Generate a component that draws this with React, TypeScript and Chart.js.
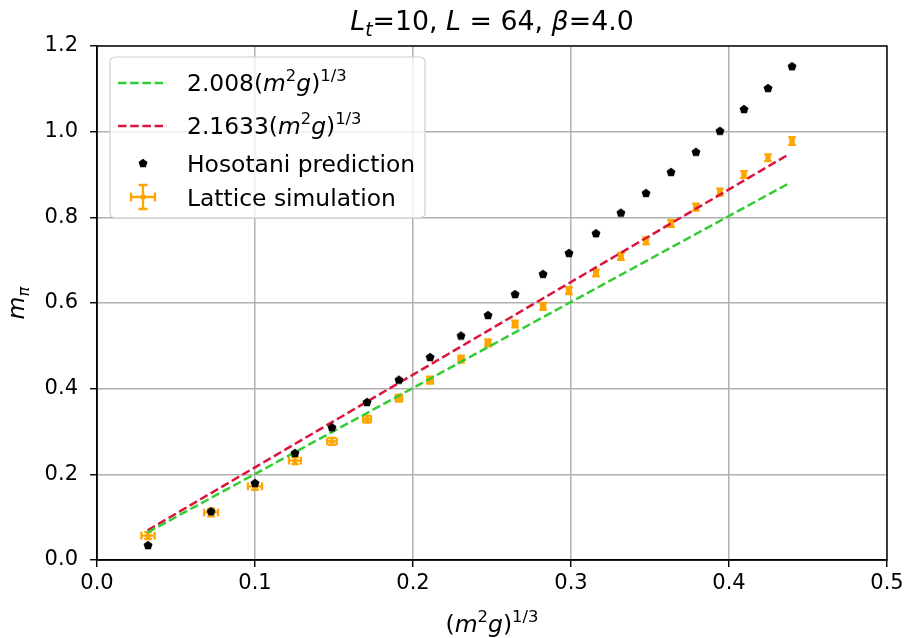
import React, { useEffect, useRef } from "react";
import { Chart, registerables } from "chart.js";
Chart.register(...registerables);

// ---------------- data ----------------
const xValues = [0.0323, 0.0722, 0.1, 0.1253, 0.1487, 0.1709, 0.1911, 0.2108, 0.2304, 0.2475, 0.2646, 0.2823, 0.2987, 0.3158, 0.3316, 0.3475, 0.3633, 0.3791, 0.3943, 0.4095, 0.4247, 0.4399];
const hosotaniY = [0.035, 0.114, 0.18, 0.25, 0.31, 0.369, 0.421, 0.474, 0.524, 0.572, 0.621, 0.668, 0.717, 0.763, 0.811, 0.857, 0.906, 0.953, 1.002, 1.053, 1.102, 1.153];
const latticeY = [0.057, 0.111, 0.172, 0.232, 0.277, 0.329, 0.378, 0.42, 0.469, 0.507, 0.551, 0.592, 0.629, 0.67, 0.709, 0.745, 0.786, 0.824, 0.859, 0.9, 0.939, 0.978];
const latticeXErr = [0.0042, 0.0044, 0.0045, 0.0038, 0.003, 0.0025, 0.002, 0.0018, 0.0016, 0.0015, 0.0014, 0.0013, 0.0012, 0.0012, 0.0011, 0.001, 0.001, 0.001, 0.001, 0.0009, 0.0009, 0.0009];
const latticeYErr = [0.008, 0.009, 0.008, 0.008, 0.008, 0.008, 0.008, 0.008, 0.008, 0.008, 0.008, 0.008, 0.008, 0.008, 0.008, 0.008, 0.008, 0.008, 0.008, 0.008, 0.008, 0.009];
const fitX = [0.032, 0.438];
const greenFitY = [0.0643, 0.8795];
const redFitY = [0.0692, 0.9475];
const xTicks = [0, 0.1, 0.2, 0.3, 0.4, 0.5];
const yTicks = [0, 0.2, 0.4, 0.6, 0.8, 1.0, 1.2];

const GREEN = "#32CD32";
const RED = "#DC143C";
const ORANGE = "#FFA500";
const FONT = '"DejaVu Sans"';

type Seg = { t: string; it?: boolean; s?: "sub" | "sup" };

const titleSegs: Seg[] = [
  { t: "L", it: true }, { t: "t", it: true, s: "sub" }, { t: "=10, " },
  { t: "L", it: true }, { t: " = 64, " }, { t: "β", it: true }, { t: "=4.0" },
];
const greenLabel: Seg[] = [{ t: "2.008(" }, { t: "m", it: true }, { t: "2", s: "sup" }, { t: "g", it: true }, { t: ")" }, { t: "1/3", s: "sup" }];
const redLabel: Seg[] = [{ t: "2.1633(" }, { t: "m", it: true }, { t: "2", s: "sup" }, { t: "g", it: true }, { t: ")" }, { t: "1/3", s: "sup" }];
const hosoLabel: Seg[] = [{ t: "Hosotani prediction" }];
const latLabel: Seg[] = [{ t: "Lattice simulation" }];
const xLabel: Seg[] = [{ t: "(" }, { t: "m", it: true }, { t: "2", s: "sup" }, { t: "g", it: true }, { t: ")" }, { t: "1/3", s: "sup" }];
const yLabel: Seg[] = [{ t: "m", it: true }, { t: "π", it: true, s: "sub" }];

function segFont(seg: Seg, size: number) {
  const fs = seg.s ? size * 0.7 : size;
  return `${seg.it ? "italic " : ""}${fs}px ${FONT}`;
}
function richWidth(ctx: CanvasRenderingContext2D, segs: Seg[], size: number) {
  let w = 0;
  for (const s of segs) { ctx.font = segFont(s, size); w += ctx.measureText(s.t).width; }
  return w;
}
function drawRich(ctx: CanvasRenderingContext2D, segs: Seg[], x: number, y: number, size: number, align: "center" | "left") {
  const w = richWidth(ctx, segs, size);
  let cx = align === "center" ? x - w / 2 : x;
  ctx.textAlign = "left";
  ctx.textBaseline = "alphabetic";
  ctx.fillStyle = "#000";
  for (const s of segs) {
    ctx.font = segFont(s, size);
    const dy = s.s === "sup" ? -size * 0.42 : s.s === "sub" ? size * 0.22 : 0;
    ctx.fillText(s.t, cx, y + dy);
    cx += ctx.measureText(s.t).width;
  }
}

function makePentagon(r: number, color: string) {
  const c = document.createElement("canvas");
  const size = Math.ceil(r * 2 + 2);
  c.width = size; c.height = size;
  const g = c.getContext("2d")!;
  g.fillStyle = color;
  g.beginPath();
  for (let i = 0; i < 5; i++) {
    const a = -Math.PI / 2 + (i * 2 * Math.PI) / 5;
    const px = size / 2 + r * Math.cos(a);
    const py = size / 2 + r * Math.sin(a) + 0.4;
    if (i === 0) g.moveTo(px, py); else g.lineTo(px, py);
  }
  g.closePath();
  g.fill();
  return c;
}

const CAP = 3.8;
function drawErrBar(ctx: CanvasRenderingContext2D, px: number, py: number, x0: number, x1: number, y0: number, y1: number, cap: number) {
  ctx.beginPath();
  ctx.moveTo(x0, py); ctx.lineTo(x1, py);
  ctx.moveTo(x0, py - cap); ctx.lineTo(x0, py + cap);
  ctx.moveTo(x1, py - cap); ctx.lineTo(x1, py + cap);
  ctx.moveTo(px, y0); ctx.lineTo(px, y1);
  ctx.moveTo(px - cap, y0); ctx.lineTo(px + cap, y0);
  ctx.moveTo(px - cap, y1); ctx.lineTo(px + cap, y1);
  ctx.stroke();
}

export default function App() {
  const ref = useRef<HTMLCanvasElement | null>(null);
  useEffect(() => {
    document.body.style.margin = "0";
    const canvas = ref.current!;
    const pent = makePentagon(4.7, "#000");
    const LAT_INDEX = 3;

    const plugin = {
      id: "custom",
      beforeDatasetDraw(chart: any, args: any) {
        if (args.index !== LAT_INDEX) return;
        const ctx: CanvasRenderingContext2D = chart.ctx;
        const xs = chart.scales.x, ys = chart.scales.y;
        ctx.save();
        ctx.strokeStyle = ORANGE;
        ctx.lineWidth = 2.3;
        for (let i = 0; i < xValues.length; i++) {
          const px = xs.getPixelForValue(xValues[i]);
          const py = ys.getPixelForValue(latticeY[i]);
          drawErrBar(ctx, px, py,
            xs.getPixelForValue(xValues[i] - latticeXErr[i]), xs.getPixelForValue(xValues[i] + latticeXErr[i]),
            ys.getPixelForValue(latticeY[i] - latticeYErr[i]), ys.getPixelForValue(latticeY[i] + latticeYErr[i]), CAP);
        }
        ctx.restore();
      },
      afterDraw(chart: any) {
        const ctx: CanvasRenderingContext2D = chart.ctx;
        const a = chart.chartArea;
        ctx.save();
        // spines
        ctx.strokeStyle = "#000";
        ctx.lineWidth = 1.4;
        ctx.strokeRect(a.left, a.top, a.right - a.left, a.bottom - a.top);
        // title
        const cx = (a.left + a.right) / 2;
        drawRich(ctx, titleSegs, cx, 30, 26.8, "center");
        // x label
        drawRich(ctx, xLabel, cx, 632, 23.5, "center");
        // y label
        ctx.save();
        ctx.translate(24, (a.top + a.bottom) / 2);
        ctx.rotate(-Math.PI / 2);
        drawRich(ctx, yLabel, 0, 0, 23.5, "center");
        ctx.restore();
        // legend
        const lx = 110, ly = 57, lw = 315, lh = 161;
        ctx.beginPath();
        ctx.roundRect(lx, ly, lw, lh, 5);
        ctx.fillStyle = "rgba(255,255,255,0.8)";
        ctx.fill();
        ctx.strokeStyle = "#d0d0d0";
        ctx.lineWidth = 1.2;
        ctx.stroke();
        const hx0 = 118, hx1 = 167, tx = 187;
        // line handles
        ctx.lineWidth = 2.5;
        ctx.setLineDash([8.5, 3.7]);
        ctx.strokeStyle = GREEN;
        ctx.beginPath(); ctx.moveTo(hx0, 83); ctx.lineTo(hx1, 83); ctx.stroke();
        ctx.strokeStyle = RED;
        ctx.beginPath(); ctx.moveTo(hx0, 126); ctx.lineTo(hx1, 126); ctx.stroke();
        ctx.setLineDash([]);
        // hosotani marker
        ctx.drawImage(pent, 143 - pent.width / 2, 163 - pent.height / 2);
        // lattice handle
        ctx.strokeStyle = ORANGE;
        ctx.lineWidth = 2.3;
        drawErrBar(ctx, 143, 197, 131, 155, 209, 185, 4.5);
        ctx.fillStyle = ORANGE;
        ctx.beginPath(); ctx.arc(143, 197, 2.8, 0, Math.PI * 2); ctx.fill();
        const lf = 23.4;
        drawRich(ctx, greenLabel, tx, 91, lf, "left");
        drawRich(ctx, redLabel, tx, 134, lf, "left");
        drawRich(ctx, hosoLabel, tx, 172, lf, "left");
        drawRich(ctx, latLabel, tx, 206, lf, "left");
        ctx.restore();
      },
    };

    const tickFont = { family: "DejaVu Sans", size: 21 };
    const chart = new Chart(canvas, {
      type: "scatter",
      data: {
        datasets: [
          {
            type: "line", label: "2.008(m²g)^1/3",
            data: fitX.map((x, i) => ({ x, y: greenFitY[i] })),
            borderColor: GREEN, borderWidth: 2.5, borderDash: [8.5, 3.7],
            pointRadius: 0, fill: false, order: 2,
          },
          {
            type: "line", label: "2.1633(m²g)^1/3",
            data: fitX.map((x, i) => ({ x, y: redFitY[i] })),
            borderColor: RED, borderWidth: 2.5, borderDash: [8.5, 3.7],
            pointRadius: 0, fill: false, order: 2,
          },
          {
            label: "Hosotani prediction",
            data: xValues.map((x, i) => ({ x, y: hosotaniY[i] })),
            pointStyle: pent as any, pointRadius: 5, backgroundColor: "#000", borderColor: "#000", order: 1,
          },
          {
            label: "Lattice simulation",
            data: xValues.map((x, i) => ({ x, y: latticeY[i] })),
            pointStyle: "circle", pointRadius: 2.6, backgroundColor: ORANGE, borderColor: ORANGE, borderWidth: 0, order: 3,
          },
        ] as any,
      },
      options: {
        responsive: false,
        animation: false,
        devicePixelRatio: 1,
        layout: { padding: { top: 46, right: 22, left: 0, bottom: 0 } },
        plugins: { legend: { display: false }, title: { display: false }, tooltip: { enabled: false } },
        scales: {
          x: {
            type: "linear", min: 0, max: 0.5,
            afterBuildTicks: (s: any) => { s.ticks = xTicks.map((v) => ({ value: v })); },
            afterFit: (s: any) => { s.height = 78; },
            ticks: { callback: (v: any) => Number(v).toFixed(1), font: tickFont, color: "#000", padding: 4, maxRotation: 0, autoSkip: false },
            grid: { color: "#b0b0b0", lineWidth: 1.5, tickColor: "#000", tickLength: 7, tickWidth: 1.4 },
            border: { display: true, color: "#000", width: 1.4 },
          },
          y: {
            type: "linear", min: 0, max: 1.2,
            afterBuildTicks: (s: any) => { s.ticks = yTicks.map((v) => ({ value: v })); },
            afterFit: (s: any) => { s.width = 97; },
            ticks: { callback: (v: any) => Number(v).toFixed(1), font: tickFont, color: "#000", padding: 12, autoSkip: false },
            grid: { color: "#b0b0b0", lineWidth: 1.5, tickColor: "#000", tickLength: 7, tickWidth: 1.4 },
            border: { display: true, color: "#000", width: 1.4 },
          },
        },
      } as any,
      plugins: [plugin as any],
    });
    return () => chart.destroy();
  }, []);
  return (
    <div style={{ width: 909, height: 638, background: "#fff" }}>
      <canvas ref={ref} width={909} height={638} style={{ display: "block" }} />
    </div>
  );
}
